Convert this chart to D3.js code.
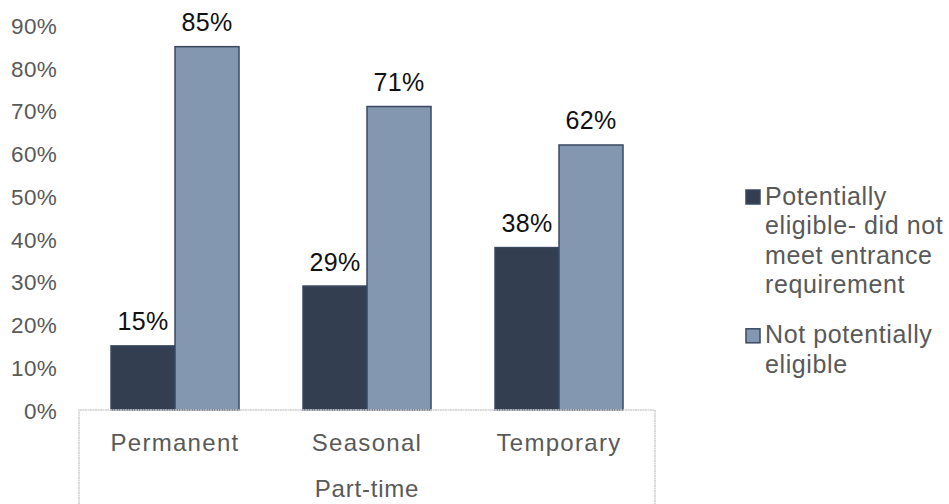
<!DOCTYPE html>
<html>
<head>
<meta charset="utf-8">
<script src="https://cdn.jsdelivr.net/npm/d3@7"></script>
<style>
  html, body { margin: 0; padding: 0; background: #fff; }
  svg { display: block; font-family: "Liberation Sans", Arial, sans-serif; }
</style>
</head>
<body>
<svg id="chart" width="949" height="504"></svg>
<script>
// Categories and series
const categories = ["Permanent", "Seasonal", "Temporary"];
const groupLabel = "Part-time";
const seriesNames = [
  "Potentially eligible- did not meet entrance requirement",
  "Not potentially eligible"
];
const legendLines = [
  ["Potentially", "eligible- did not", "meet entrance", "requirement"],
  ["Not potentially", "eligible"]
];
const eligibleDidNotMeet = [0.15, 0.29, 0.38];
const notEligible = [0.85, 0.71, 0.62];
const yTicks = [0, 0.1, 0.2, 0.3, 0.4, 0.5, 0.6, 0.7, 0.8, 0.9];

const colors = ["#333f50", "#8497b0"];
const seriesValues = [eligibleDidNotMeet, notEligible];

const svg = d3.select("#chart");

const y = d3.scaleLinear().domain([0, 0.9]).range([410, 25.3]);
const x0 = d3.scaleBand().domain(categories).range([79, 655]).padding(0);
const x1 = d3.scaleBand().domain(d3.range(seriesNames.length))
  .range([0, x0.bandwidth()]).paddingInner(0).paddingOuter(0.5);

// Y axis labels (no axis line, no gridlines)
const yAxis = d3.axisLeft(y).tickValues(yTicks).tickFormat(d3.format(".0%")).tickSize(0).tickPadding(0);
const gy = svg.append("g").attr("transform", "translate(57,0)").call(yAxis);
gy.select(".domain").remove();
gy.selectAll("text")
  .attr("fill", "#595959")
  .style("font-size", "22.5px")
  .style("font-family", "'Liberation Sans', Arial, sans-serif")
  .style("letter-spacing", "0.3px")
  .attr("dy", "0.36em");

// Bars
const groups = svg.append("g").selectAll("g")
  .data(categories)
  .join("g")
  .attr("transform", d => `translate(${x0(d)},0)`);

groups.selectAll("rect")
  .data((c, i) => seriesValues.map((vals, s) => ({ s, v: vals[i] })))
  .join("rect")
  .attr("x", d => x1(d.s))
  .attr("y", d => y(d.v))
  .attr("width", x1.bandwidth())
  .attr("height", d => y(0) - y(d.v))
  .attr("fill", d => colors[d.s])
  .attr("stroke", "#3a4862")
  .attr("stroke-width", 1.5);

// Data labels
groups.selectAll("text.val")
  .data((c, i) => seriesValues.map((vals, s) => ({ s, v: vals[i] })))
  .join("text")
  .attr("class", "val")
  .attr("x", d => x1(d.s) + x1.bandwidth() / 2)
  .attr("y", d => y(d.v) - 15.5)
  .attr("text-anchor", "middle")
  .attr("fill", "#111")
  .style("font-size", "25px")
  .style("letter-spacing", "0.3px")
  .text(d => d3.format(".0%")(d.v));

// Category axis frame
const axisColor = "#d0d0d0";
svg.append("path")
  .attr("d", `M79,504 V410 H655 V504`)
  .attr("fill", "none")
  .attr("stroke", axisColor)
  .attr("stroke-width", 1.5)
  .attr("stroke-dasharray", "2,0.5");

// Category labels
svg.append("g").selectAll("text")
  .data(categories)
  .join("text")
  .attr("x", d => x0(d) + x0.bandwidth() / 2)
  .attr("y", 450.5)
  .attr("text-anchor", "middle")
  .attr("fill", "#595959")
  .style("font-size", "24px")
  .style("letter-spacing", "1.3px")
  .text(d => d);

svg.append("text")
  .attr("x", (x0.range()[0] + x0.range()[1]) / 2)
  .attr("y", 496.5)
  .attr("text-anchor", "middle")
  .attr("fill", "#595959")
  .style("font-size", "24px")
  .style("letter-spacing", "0.8px")
  .text(groupLabel);

// Legend
const legendBaseline = [204.5, 343.3];
const lineStep = 29.5;
const legend = svg.append("g");
seriesNames.forEach((name, s) => {
  const g = legend.append("g").attr("class", "legend-item");
  g.append("rect")
    .attr("x", 746)
    .attr("y", legendBaseline[s] - 14.5)
    .attr("width", 14)
    .attr("height", 14)
    .attr("fill", colors[s])
    .attr("stroke", "#3a4862")
    .attr("stroke-width", 1.5);
  const t = g.append("text")
    .attr("fill", "#595959")
    .style("font-size", "25px")
    .style("letter-spacing", "0.6px");
  legendLines[s].forEach((line, i) => {
    t.append("tspan")
      .attr("x", 765)
      .attr("y", legendBaseline[s] + i * lineStep)
      .text(line);
  });
});
</script>
</body>
</html>
